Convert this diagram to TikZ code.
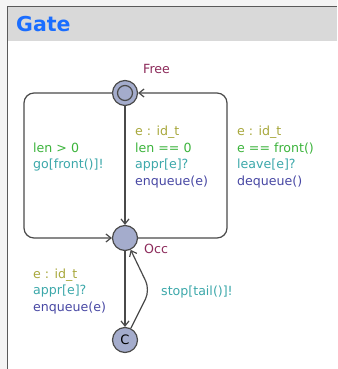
\documentclass[tikz,border=0pt]{standalone}
\usepackage{fontspec}
\setmainfont{DejaVu Sans}
\usetikzlibrary{arrows.meta}
\definecolor{bgout}{HTML}{F4F4F4}
\definecolor{headfill}{HTML}{D9D9D9}
\definecolor{frameline}{HTML}{5A5A5A}
\definecolor{headtext}{HTML}{1A6DFF}
\definecolor{locfill}{HTML}{A4ACCC}
\definecolor{edgecol}{HTML}{4A4A4A}
\definecolor{selcol}{HTML}{A8A83C}
\definecolor{guardcol}{HTML}{3CB43C}
\definecolor{synccol}{HTML}{3CA8AA}
\definecolor{updcol}{HTML}{4848A4}
\definecolor{namecol}{HTML}{8C2A5A}
\tikzset{
  loc/.style={circle, draw=edgecol, line width=1.2pt, fill=locfill, minimum size=25pt, inner sep=0pt},
  edge/.style={draw=edgecol, line width=1.2pt, -{Straight Barb[length=5pt,width=8pt]}},
  lbl/.style={anchor=base west, inner sep=0pt, font=\fontsize{12.6}{16.5}\selectfont},
  sel/.style={lbl, text=selcol},
  grd/.style={lbl, text=guardcol},
  syn/.style={lbl, text=synccol},
  upd/.style={lbl, text=updcol},
  locname/.style={lbl, text=namecol}
}
\begin{document}
\begin{tikzpicture}[x=1pt,y=-1pt]
\useasboundingbox (0,0) rectangle (337,369);
\fill[bgout] (0,0) rectangle (337,369);
\fill[white] (8,7) rectangle (337,369);
\fill[headfill] (8,7) rectangle (337,41);
\draw[frameline, line width=1.5pt] (7.5,369) -- (7.5,6.5) -- (337,6.5);
\node[anchor=base west, inner sep=0pt, text=headtext, font=\fontsize{20.5}{24}\bfseries\selectfont] (title) at (16,32) {Gate};

% locations
\node[loc] (Free) at (125,93) {};
\node[circle, draw=edgecol, line width=1.2pt, minimum size=15pt, inner sep=0pt] (FreeIn) at (Free.center) {};
\node[loc] (Occ) at (125,238) {};
\node[loc, font=\fontsize{13}{13}\selectfont] (C) at (125,340) {C};
\node[locname] (nFree) at (143,73) {Free};
\node[locname] (nOcc) at (144,253) {Occ};

% corner coordinates
\coordinate (lt) at (24,93);
\coordinate (lb) at (24,238);
\coordinate (rb) at (227,238);
\coordinate (rt) at (227,93);
\coordinate (nail) at (150,290);

% edges
\draw[edge] (Free) -- (Occ);
\draw[edge, rounded corners=10pt] (Free.west) -- (lt) -- (lb) -- (Occ.west);
\draw[edge, rounded corners=10pt] (Occ.east) -- (rb) -- (rt) -- (Free.east);
\draw[edge] (Occ) -- (C);
\draw[edge, rounded corners=10pt] (C) -- (nail) -- (Occ);

% labels
\node[grd] (g1) at (33,152) {len > 0};
\node[syn] (s1) at (33,168.5) {go[front()]!};

\node[sel] (e2) at (135,135.5) {e : id\_t};
\node[grd] (g2) at (135,152) {len == 0};
\node[syn] (s2) at (135,168.5) {appr[e]?};
\node[upd] (u2) at (135,185) {enqueue(e)};

\node[sel] (e3) at (237,135.5) {e : id\_t};
\node[grd] (g3) at (237,152) {e == front()};
\node[syn] (s3) at (237,168.5) {leave[e]?};
\node[upd] (u3) at (237,185) {dequeue()};

\node[sel] (e4) at (33,278) {e : id\_t};
\node[syn] (s4) at (33,294.5) {appr[e]?};
\node[upd] (u4) at (33,311) {enqueue(e)};

\node[syn] (s5) at (161,295) {stop[tail()]!};
\end{tikzpicture}
\end{document}
